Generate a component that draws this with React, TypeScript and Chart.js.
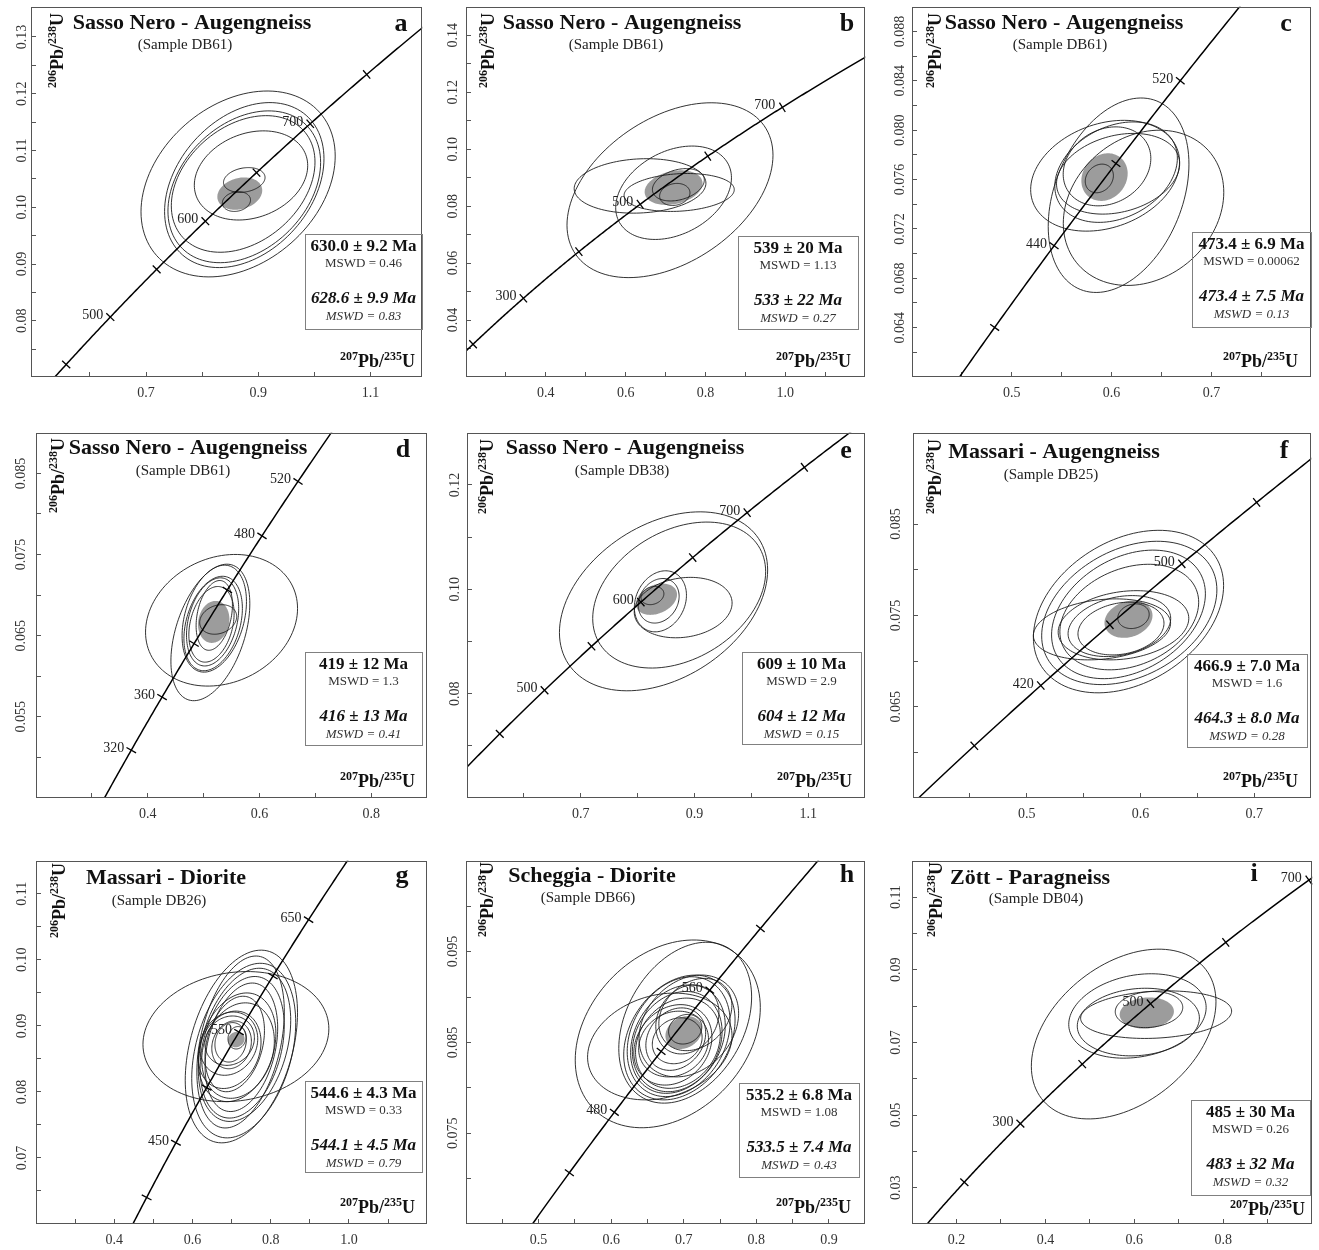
import React, { useEffect, useRef } from "react";
import { Chart, registerables } from "chart.js";

Chart.register(...registerables);

const SERIF = "'Liberation Serif', 'Times New Roman', serif";
const LAMBDA_238 = 1.55125e-10;
const LAMBDA_235 = 9.8485e-10;
const pb206u238 = (ma: number) => Math.exp(LAMBDA_238 * ma * 1e6) - 1;
const pb207u235 = (ma: number) => Math.exp(LAMBDA_235 * ma * 1e6) - 1;

// ================= DATA =================
// ellipse rows: [x centre, y centre, x half-extent, y half-extent, correlation]

// ---- a ----
const titleA = "Sasso Nero - Augengneiss";
const sampleA = "(Sample DB61)";
const resultA = ["630.0 ± 9.2 Ma", "MSWD = 0.46", "628.6 ± 9.9 Ma", "MSWD = 0.83"];
const xRangeA = [0.495, 1.192];
const yRangeA = [0.0701, 0.1353];
const xTicksA = [0.6, 0.7, 0.8, 0.9, 1.0, 1.1];
const xLabelsA = ["0.7", "0.9", "1.1"];
const yTicksA = [0.075, 0.08, 0.085, 0.09, 0.095, 0.1, 0.105, 0.11, 0.115, 0.12, 0.125, 0.13];
const yLabelsA = ["0.08", "0.09", "0.10", "0.11", "0.12", "0.13"];
const agesA = [450, 500, 550, 600, 650, 700, 750];
const ageLabelsA = [500, 600, 700];
const ellipsesA = [
  [0.864, 0.1041, 0.173, 0.01637, 0.3],
  [0.875, 0.1039, 0.142, 0.01453, 0.32],
  [0.875, 0.1036, 0.136, 0.01337, 0.32],
  [0.873, 0.1041, 0.128, 0.01203, 0.32],
  [0.887, 0.1056, 0.101, 0.00785, 0.22],
  [0.875, 0.1048, 0.037, 0.00218, 0.2],
  [0.861, 0.101, 0.0251, 0.00174, 0.15],
];
const meanA = [0.867, 0.1024, 0.04, 0.00285, 0.2];

// ---- b ----
const titleB = "Sasso Nero - Augengneiss";
const sampleB = "(Sample DB61)";
const resultB = ["539 ± 20 Ma", "MSWD = 1.13", "533 ± 22 Ma", "MSWD = 0.27"];
const xRangeB = [0.2, 1.2];
const yRangeB = [0.02, 0.15];
const xTicksB = [0.3, 0.4, 0.5, 0.6, 0.7, 0.8, 0.9, 1.0, 1.1];
const xLabelsB = ["0.4", "0.6", "0.8", "1.0"];
const yTicksB = [0.03, 0.04, 0.05, 0.06, 0.07, 0.08, 0.09, 0.1, 0.11, 0.12, 0.13, 0.14];
const yLabelsB = ["0.04", "0.06", "0.08", "0.10", "0.12", "0.14"];
const agesB = [200, 300, 400, 500, 600, 700];
const ageLabelsB = [300, 500, 700];
const ellipsesB = [
  [0.711, 0.0856, 0.258, 0.0307, 0.4],
  [0.636, 0.0871, 0.165, 0.00956, 0.1],
  [0.72, 0.0847, 0.145, 0.0164, 0.32],
  [0.734, 0.0848, 0.138, 0.00666, 0.15],
  [0.732, 0.0875, 0.065, 0.00568, 0.3],
  [0.723, 0.0841, 0.038, 0.00388, 0.15],
];
const meanB = [0.72, 0.0865, 0.0725, 0.00608, 0.25];

// ---- c ----
const titleC = "Sasso Nero - Augengneiss";
const sampleC = "(Sample DB61)";
const resultC = ["473.4 ± 6.9 Ma", "MSWD = 0.00062", "473.4 ± 7.5 Ma", "MSWD = 0.13"];
const xRangeC = [0.4, 0.8];
const yRangeC = [0.06, 0.09];
const xTicksC = [0.45, 0.5, 0.55, 0.6, 0.65, 0.7, 0.75];
const xLabelsC = ["0.5", "0.6", "0.7"];
const yTicksC = [0.062, 0.064, 0.066, 0.068, 0.07, 0.072, 0.074, 0.076, 0.078, 0.08, 0.082, 0.084, 0.086, 0.088];
const yLabelsC = ["0.064", "0.068", "0.072", "0.076", "0.080", "0.084", "0.088"];
const agesC = [400, 440, 480, 520];
const ageLabelsC = [440, 520];
const ellipsesC = [
  [0.5935, 0.07631, 0.0746, 0.00449, 0.25],
  [0.607, 0.07473, 0.0705, 0.00788, 0.32],
  [0.632, 0.07371, 0.0804, 0.00629, 0.2],
  [0.6045, 0.0766, 0.0614, 0.00407, 0.28],
  [0.6065, 0.07647, 0.0617, 0.00327, 0.25],
  [0.5954, 0.07707, 0.0439, 0.0032, 0.2],
  [0.5877, 0.07609, 0.0141, 0.00116, 0.2],
];
const meanC = [0.5929, 0.0762, 0.0232, 0.00193, 0.15];

// ---- d ----
const titleD = "Sasso Nero - Augengneiss";
const sampleD = "(Sample DB61)";
const resultD = ["419 ± 12 Ma", "MSWD = 1.3", "416 ± 13 Ma", "MSWD = 0.41"];
const xRangeD = [0.2, 0.9];
const yRangeD = [0.045, 0.09];
const xTicksD = [0.3, 0.4, 0.5, 0.6, 0.7, 0.8];
const xLabelsD = ["0.4", "0.6", "0.8"];
const yTicksD = [0.05, 0.055, 0.06, 0.065, 0.07, 0.075, 0.08, 0.085];
const yLabelsD = ["0.055", "0.065", "0.075", "0.085"];
const agesD = [320, 360, 400, 440, 480, 520];
const ageLabelsD = [320, 360, 480, 520];
const ellipsesD = [
  [0.532, 0.0669, 0.136, 0.00811, 0.18],
  [0.512, 0.0654, 0.0706, 0.00841, 0.42],
  [0.519, 0.0671, 0.0576, 0.00659, 0.32],
  [0.517, 0.0665, 0.0523, 0.00582, 0.32],
  [0.516, 0.0667, 0.0467, 0.00543, 0.3],
  [0.514, 0.0664, 0.0405, 0.00466, 0.28],
  [0.519, 0.0675, 0.0325, 0.0043, 0.3],
  [0.526, 0.067, 0.0331, 0.00182, 0.2],
];
const meanD = [0.518, 0.0667, 0.0281, 0.00259, 0.12];

// ---- e ----
const titleE = "Sasso Nero - Augengneiss";
const sampleE = "(Sample DB38)";
const resultE = ["609 ± 10 Ma", "MSWD = 2.9", "604 ± 12 Ma", "MSWD = 0.15"];
const xRangeE = [0.5, 1.2];
const yRangeE = [0.06, 0.13];
const xTicksE = [0.6, 0.7, 0.8, 0.9, 1.0, 1.1];
const xLabelsE = ["0.7", "0.9", "1.1"];
const yTicksE = [0.07, 0.08, 0.09, 0.1, 0.11, 0.12];
const yLabelsE = ["0.08", "0.10", "0.12"];
const agesE = [450, 500, 550, 600, 650, 700, 750];
const ageLabelsE = [500, 600, 700];
const ellipsesE = [
  [0.8455, 0.0977, 0.183, 0.01715, 0.35],
  [0.873, 0.0989, 0.152, 0.01399, 0.32],
  [0.88, 0.0965, 0.086, 0.00579, 0.15],
  [0.84, 0.0977, 0.0458, 0.00585, 0.2],
  [0.837, 0.0978, 0.0359, 0.00427, 0.2],
  [0.826, 0.0988, 0.0201, 0.00174, 0.2],
];
const meanE = [0.833, 0.0981, 0.0362, 0.003, 0.3];

// ---- f ----
const titleF = "Massari - Augengneiss";
const sampleF = "(Sample DB25)";
const resultF = ["466.9 ± 7.0 Ma", "MSWD = 1.6", "464.3 ± 8.0 Ma", "MSWD = 0.28"];
const xRangeF = [0.4, 0.75];
const yRangeF = [0.055, 0.095];
const xTicksF = [0.45, 0.5, 0.55, 0.6, 0.65, 0.7];
const xLabelsF = ["0.5", "0.6", "0.7"];
const yTicksF = [0.06, 0.065, 0.07, 0.075, 0.08, 0.085];
const yLabelsF = ["0.065", "0.075", "0.085"];
const agesF = [380, 420, 460, 500, 540];
const ageLabelsF = [420, 500];
const ellipsesF = [
  [0.5894, 0.07542, 0.0836, 0.0089, 0.32],
  [0.5901, 0.07527, 0.077, 0.00785, 0.32],
  [0.5894, 0.07511, 0.0676, 0.00704, 0.32],
  [0.5901, 0.07482, 0.061, 0.00578, 0.28],
  [0.5661, 0.07347, 0.0603, 0.00334, 0.2],
  [0.585, 0.07392, 0.0574, 0.00379, 0.2],
  [0.5814, 0.07383, 0.0451, 0.00334, 0.25],
  [0.5828, 0.07356, 0.0378, 0.00289, 0.2],
  [0.5938, 0.07491, 0.0138, 0.00135, 0.15],
];
const meanF = [0.5894, 0.07458, 0.0211, 0.00204, 0.2];

// ---- g ----
const titleG = "Massari - Diorite";
const sampleG = "(Sample DB26)";
const resultG = ["544.6 ± 4.3 Ma", "MSWD = 0.33", "544.1 ± 4.5 Ma", "MSWD = 0.79"];
const xRangeG = [0.2, 1.2];
const yRangeG = [0.06, 0.115];
const xTicksG = [0.3, 0.4, 0.5, 0.6, 0.7, 0.8, 0.9, 1.0, 1.1];
const xLabelsG = ["0.4", "0.6", "0.8", "1.0"];
const yTicksG = [0.065, 0.07, 0.075, 0.08, 0.085, 0.09, 0.095, 0.1, 0.105, 0.11];
const yLabelsG = ["0.07", "0.08", "0.09", "0.10", "0.11"];
const agesG = [400, 450, 500, 550, 600, 650];
const ageLabelsG = [450, 550, 650];
const ellipsesG = [
  [0.711, 0.08838, 0.2376, 0.00985, 0.12],
  [0.725, 0.08688, 0.1435, 0.01459, 0.35],
  [0.731, 0.08626, 0.1329, 0.01322, 0.32],
  [0.723, 0.08756, 0.1118, 0.01302, 0.35],
  [0.733, 0.08713, 0.1181, 0.0116, 0.32],
  [0.727, 0.08676, 0.1076, 0.01072, 0.3],
  [0.725, 0.08676, 0.0928, 0.00973, 0.3],
  [0.714, 0.08676, 0.0992, 0.00823, 0.25],
  [0.7165, 0.08626, 0.0928, 0.00723, 0.2],
  [0.695, 0.08638, 0.0802, 0.00586, 0.2],
  [0.693, 0.08731, 0.0738, 0.00479, 0.15],
  [0.695, 0.08776, 0.0633, 0.00374, 0.12],
  [0.7, 0.08713, 0.0506, 0.00362, 0.15],
  [0.6975, 0.08751, 0.0401, 0.00299, 0.12],
  [0.714, 0.0882, 0.0232, 0.0017, 0.1],
  [0.708, 0.08726, 0.076, 0.00723, 0.28],
];
const meanG = [0.712, 0.08793, 0.0211, 0.00117, 0.1];

// ---- h ----
const titleH = "Scheggia - Diorite";
const sampleH = "(Sample DB66)";
const resultH = ["535.2 ± 6.8 Ma", "MSWD = 1.08", "533.5 ± 7.4 Ma", "MSWD = 0.43"];
const xRangeH = [0.4, 0.95];
const yRangeH = [0.065, 0.105];
const xTicksH = [0.45, 0.5, 0.55, 0.6, 0.65, 0.7, 0.75, 0.8, 0.85, 0.9];
const xLabelsH = ["0.5", "0.6", "0.7", "0.8", "0.9"];
const yTicksH = [0.07, 0.075, 0.08, 0.085, 0.09, 0.095, 0.1];
const yLabelsH = ["0.075", "0.085", "0.095"];
const agesH = [440, 480, 520, 560, 600];
const ageLabelsH = [480, 560];
const ellipsesH = [
  [0.678, 0.08594, 0.1275, 0.01034, 0.28],
  [0.702, 0.08717, 0.0915, 0.00886, 0.32],
  [0.667, 0.08455, 0.0995, 0.00588, 0.2],
  [0.694, 0.08554, 0.0767, 0.00687, 0.28],
  [0.693, 0.08563, 0.0709, 0.0066, 0.25],
  [0.692, 0.08536, 0.0652, 0.00597, 0.25],
  [0.691, 0.08509, 0.0618, 0.00552, 0.2],
  [0.692, 0.08491, 0.0584, 0.00497, 0.2],
  [0.685, 0.08473, 0.0538, 0.00443, 0.2],
  [0.686, 0.08482, 0.0481, 0.00362, 0.15],
  [0.689, 0.08536, 0.0412, 0.00344, 0.2],
  [0.691, 0.08518, 0.0343, 0.00253, 0.15],
  [0.716, 0.08807, 0.0503, 0.00398, 0.25],
  [0.705, 0.08753, 0.0435, 0.0038, 0.2],
  [0.702, 0.08645, 0.0229, 0.00163, 0.15],
  [0.707, 0.08681, 0.0686, 0.00561, 0.25],
];
const meanH = [0.7, 0.08608, 0.0252, 0.00181, 0.2];

// ---- i ----
const titleI = "Zött - Paragneiss";
const sampleI = "(Sample DB04)";
const resultI = ["485 ± 30 Ma", "MSWD = 0.26", "483 ± 32 Ma", "MSWD = 0.32"];
const xRangeI = [0.1, 1.0];
const yRangeI = [0.02, 0.12];
const xTicksI = [0.2, 0.3, 0.4, 0.5, 0.6, 0.7, 0.8, 0.9];
const xLabelsI = ["0.2", "0.4", "0.6", "0.8"];
const yTicksI = [0.03, 0.04, 0.05, 0.06, 0.07, 0.08, 0.09, 0.1, 0.11];
const yLabelsI = ["0.03", "0.05", "0.07", "0.09", "0.11"];
const agesI = [200, 300, 400, 500, 600, 700];
const ageLabelsI = [300, 500, 700];
const ellipsesI = [
  [0.576, 0.0723, 0.2076, 0.02337, 0.38],
  [0.607, 0.07728, 0.1545, 0.01162, 0.2],
  [0.609, 0.0756, 0.1373, 0.00931, 0.12],
  [0.649, 0.07764, 0.1698, 0.00655, 0.15],
  [0.633, 0.07904, 0.0759, 0.00497, 0.12],
];
const meanI = [0.628, 0.07809, 0.061, 0.00429, 0.1];

// ================= LAYOUT (page pixels) =================
type Layout = {
  frame: number[];
  box: number[];
  title: number[];
  sample: number[];
  letter: number[];
  yTitle: number[];
  xTitle: number[];
  yLabelGap: number;
};

const panels = [
  { letter: "a", title: titleA, sample: sampleA, result: resultA, xRange: xRangeA, yRange: yRangeA, xTicks: xTicksA, xLabels: xLabelsA, yTicks: yTicksA, yLabels: yLabelsA, ages: agesA, ageLabels: ageLabelsA, ellipses: ellipsesA, mean: meanA,
    layout: { frame: [31, 3, 424, 377], box: [305, 234, 422, 329], title: [192, 29], sample: [185, 45], letter: [401, 31], yTitle: [63, 88], xTitle: [415, 367], yLabelGap: 9 } },
  { letter: "b", title: titleB, sample: sampleB, result: resultB, xRange: xRangeB, yRange: yRangeB, xTicks: xTicksB, xLabels: xLabelsB, yTicks: yTicksB, yLabels: yLabelsB, ages: agesB, ageLabels: ageLabelsB, ellipses: ellipsesB, mean: meanB,
    layout: { frame: [466, 3, 867, 377], box: [738, 236, 858, 329], title: [622, 29], sample: [616, 45], letter: [847, 31], yTitle: [494, 88], xTitle: [851, 367], yLabelGap: 13 } },
  { letter: "c", title: titleC, sample: sampleC, result: resultC, xRange: xRangeC, yRange: yRangeC, xTicks: xTicksC, xLabels: xLabelsC, yTicks: yTicksC, yLabels: yLabelsC, ages: agesC, ageLabels: ageLabelsC, ellipses: ellipsesC, mean: meanC,
    layout: { frame: [912, 3, 1313, 377], box: [1192, 232, 1311, 327], title: [1064, 29], sample: [1060, 45], letter: [1286, 31], yTitle: [941, 88], xTitle: [1298, 367], yLabelGap: 11.5 } },
  { letter: "d", title: titleD, sample: sampleD, result: resultD, xRange: xRangeD, yRange: yRangeD, xTicks: xTicksD, xLabels: xLabelsD, yTicks: yTicksD, yLabels: yLabelsD, ages: agesD, ageLabels: ageLabelsD, ellipses: ellipsesD, mean: meanD,
    layout: { frame: [36, 429, 429, 798], box: [305, 652, 422, 745], title: [188, 454], sample: [183, 471], letter: [403, 457], yTitle: [64, 513], xTitle: [415, 787], yLabelGap: 15 } },
  { letter: "e", title: titleE, sample: sampleE, result: resultE, xRange: xRangeE, yRange: yRangeE, xTicks: xTicksE, xLabels: xLabelsE, yTicks: yTicksE, yLabels: yLabelsE, ages: agesE, ageLabels: ageLabelsE, ellipses: ellipsesE, mean: meanE,
    layout: { frame: [467, 429, 867, 798], box: [742, 652, 861, 744], title: [625, 454], sample: [622, 471], letter: [846, 458], yTitle: [493, 514], xTitle: [852, 787], yLabelGap: 11.7 } },
  { letter: "f", title: titleF, sample: sampleF, result: resultF, xRange: xRangeF, yRange: yRangeF, xTicks: xTicksF, xLabels: xLabelsF, yTicks: yTicksF, yLabels: yLabelsF, ages: agesF, ageLabels: ageLabelsF, ellipses: ellipsesF, mean: meanF,
    layout: { frame: [913, 429, 1313, 798], box: [1187, 654, 1307, 747], title: [1054, 458], sample: [1051, 475], letter: [1284, 458], yTitle: [941, 514], xTitle: [1298, 787], yLabelGap: 16.5 } },
  { letter: "g", title: titleG, sample: sampleG, result: resultG, xRange: xRangeG, yRange: yRangeG, xTicks: xTicksG, xLabels: xLabelsG, yTicks: yTicksG, yLabels: yLabelsG, ages: agesG, ageLabels: ageLabelsG, ellipses: ellipsesG, mean: meanG,
    layout: { frame: [36, 857, 429, 1224], box: [305, 1081, 422, 1172], title: [166, 884], sample: [159, 901], letter: [402, 883], yTitle: [65, 938], xTitle: [415, 1213], yLabelGap: 14 } },
  { letter: "h", title: titleH, sample: sampleH, result: resultH, xRange: xRangeH, yRange: yRangeH, xTicks: xTicksH, xLabels: xLabelsH, yTicks: yTicksH, yLabels: yLabelsH, ages: agesH, ageLabels: ageLabelsH, ellipses: ellipsesH, mean: meanH,
    layout: { frame: [466, 857, 867, 1224], box: [739, 1083, 859, 1177], title: [592, 882], sample: [588, 898], letter: [847, 882], yTitle: [493, 937], xTitle: [851, 1213], yLabelGap: 12.4 } },
  { letter: "i", title: titleI, sample: sampleI, result: resultI, xRange: xRangeI, yRange: yRangeI, xTicks: xTicksI, xLabels: xLabelsI, yTicks: yTicksI, yLabels: yLabelsI, ages: agesI, ageLabels: ageLabelsI, ellipses: ellipsesI, mean: meanI,
    layout: { frame: [912, 857, 1314, 1224], box: [1191, 1100, 1310, 1195], title: [1030, 884], sample: [1036, 899], letter: [1254, 881], yTitle: [942, 937], xTitle: [1305, 1215], yLabelGap: 15.5 } },
];

// ================= DRAWING =================
const TICK_LEN = 5;
const X_AXIS_H = 32;
const RIGHT_PAD = 5;

function ellipsePath(ctx: CanvasRenderingContext2D, xs: any, ys: any, e: number[]) {
  const [cx, cy, sx, sy, r] = e;
  const k = Math.sqrt(1 - r * r);
  ctx.beginPath();
  const n = 120;
  for (let i = 0; i <= n; i++) {
    const t = (i / n) * Math.PI * 2;
    const px = xs.getPixelForValue(cx + sx * Math.cos(t));
    const py = ys.getPixelForValue(cy + sy * (r * Math.cos(t) + k * Math.sin(t)));
    if (i === 0) ctx.moveTo(px, py);
    else ctx.lineTo(px, py);
  }
  ctx.closePath();
}

function drawRatio(ctx: CanvasRenderingContext2D, parts: [string, boolean][], x: number, y: number, rotate: boolean, alignRight: boolean) {
  const mainF = `bold 18px ${SERIF}`;
  const supF = `bold 12px ${SERIF}`;
  ctx.save();
  ctx.translate(x, y);
  if (rotate) ctx.rotate(-Math.PI / 2);
  ctx.textAlign = "left";
  ctx.textBaseline = "alphabetic";
  ctx.fillStyle = "#111";
  const widths = parts.map(([t, sup]) => {
    ctx.font = sup ? supF : mainF;
    return ctx.measureText(t).width;
  });
  const total = widths.reduce((a, b) => a + b, 0);
  let cx = alignRight ? -total : 0;
  parts.forEach(([t, sup], i) => {
    ctx.font = sup ? supF : mainF;
    ctx.fillText(t, cx, sup ? -7 : 0);
    cx += widths[i];
  });
  ctx.restore();
}

function makePlugin(p: any, ox: number, oy: number) {
  const L: Layout = p.layout;
  return {
    id: "concordia_" + p.letter,
    beforeDatasetsDraw(chart: any) {
      const { ctx, chartArea: ca } = chart;
      const xs = chart.scales.x;
      const ys = chart.scales.y;
      ctx.save();
      ctx.beginPath();
      ctx.rect(ca.left, ca.top, ca.right - ca.left, ca.bottom - ca.top);
      ctx.clip();
      ellipsePath(ctx, xs, ys, p.mean);
      ctx.fillStyle = "#9c9c9c";
      ctx.fill();
      ctx.strokeStyle = "#1c1c1c";
      ctx.lineWidth = 0.9;
      for (const e of p.ellipses) {
        ellipsePath(ctx, xs, ys, e);
        ctx.stroke();
      }
      ctx.beginPath();
      for (let a = 0; a <= 1500; a += 2) {
        const px = xs.getPixelForValue(pb207u235(a));
        const py = ys.getPixelForValue(pb206u238(a));
        if (a === 0) ctx.moveTo(px, py);
        else ctx.lineTo(px, py);
      }
      ctx.strokeStyle = "#000";
      ctx.lineWidth = 1.5;
      ctx.stroke();
      ctx.restore();
    },
    afterDatasetsDraw(chart: any) {
      const { ctx, chartArea: ca } = chart;
      const xs = chart.scales.x;
      const ys = chart.scales.y;
      ctx.save();
      ctx.strokeStyle = "#555";
      ctx.lineWidth = 1;
      ctx.strokeRect(Math.round(ca.left) + 0.5, Math.round(ca.top) + 0.5, Math.round(ca.right - ca.left) - 1, Math.round(ca.bottom - ca.top) - 1);
      ctx.fillStyle = "#222";
      ctx.font = `14px ${SERIF}`;
      ctx.textAlign = "right";
      ctx.textBaseline = "alphabetic";
      for (const a of p.ageLabels) {
        const px = xs.getPixelForValue(pb207u235(a));
        const py = ys.getPixelForValue(pb206u238(a));
        ctx.fillText(String(a), px - 7, py + 2);
      }
      ctx.fillStyle = "#111";
      ctx.textAlign = "center";
      ctx.font = `bold 22px ${SERIF}`;
      ctx.fillText(p.title, L.title[0] - ox, L.title[1] - oy);
      ctx.font = `15px ${SERIF}`;
      ctx.fillStyle = "#222";
      ctx.textBaseline = "middle";
      ctx.fillText(p.sample, L.sample[0] - ox, L.sample[1] - oy);
      ctx.textBaseline = "alphabetic";
      ctx.fillStyle = "#111";
      ctx.font = `bold 26px ${SERIF}`;
      ctx.fillText(p.letter, L.letter[0] - ox, L.letter[1] - oy);
      const [bx0, by0, bx1, by1] = L.box;
      ctx.strokeStyle = "#808080";
      ctx.lineWidth = 1;
      ctx.strokeRect(bx0 - ox + 0.5, by0 - oy + 0.5, bx1 - bx0, by1 - by0);
      const bcx = (bx0 + bx1) / 2 - ox;
      const fonts = [`bold 17px ${SERIF}`, `13px ${SERIF}`, `italic bold 17px ${SERIF}`, `italic 13px ${SERIF}`];
      const offs = [12.5, 30, 65, 82.5];
      const cols = ["#111", "#333", "#111", "#333"];
      ctx.textAlign = "center";
      ctx.textBaseline = "middle";
      p.result.forEach((t: string, i: number) => {
        ctx.font = fonts[i];
        ctx.fillStyle = cols[i];
        ctx.fillText(t, bcx, by0 - oy + offs[i]);
      });
      ctx.restore();
      drawRatio(ctx, [["206", true], ["Pb/", false], ["238", true], ["U", false]], L.yTitle[0] - ox, L.yTitle[1] - oy, true, false);
      drawRatio(ctx, [["207", true], ["Pb/", false], ["235", true], ["U", false]], L.xTitle[0] - ox, L.xTitle[1] - oy, false, true);
    },
  };
}

let measureCtx: CanvasRenderingContext2D | null = null;
function textWidth(s: string, font: string) {
  if (!measureCtx) measureCtx = document.createElement("canvas").getContext("2d");
  measureCtx!.font = font;
  return measureCtx!.measureText(s).width;
}

function labelFor(labels: string[]) {
  return (value: any) => {
    const i = labels.findIndex((l) => Math.abs(parseFloat(l) - Number(value)) < 1e-9);
    return i >= 0 ? labels[i] : "";
  };
}

function PanelChart({ p }: { p: any }) {
  const ref = useRef<HTMLCanvasElement | null>(null);
  const L: Layout = p.layout;
  const [fl, ft, fr, fb] = L.frame;
  const yW = Math.min(40, fl);
  const padTop = Math.min(3, ft);
  const left = fl - yW;
  const top = ft - padTop;
  const w = fr - fl + yW + RIGHT_PAD;
  const h = fb - ft + padTop + X_AXIS_H;

  useEffect(() => {
    const tickFont = { family: SERIF, size: 14 };
    const widest = Math.max(...p.yLabels.map((s: string) => textWidth(s, `14px ${SERIF}`)));
    const yPad = L.yLabelGap + TICK_LEN - widest / 2;
    const zeroPad = (s: any) => {
      s.paddingLeft = 0;
      s.paddingRight = 0;
      s.paddingTop = 0;
      s.paddingBottom = 0;
    };
    const ages: number[] = p.ages;
    const chart = new Chart(ref.current as HTMLCanvasElement, {
      type: "scatter",
      data: {
        datasets: [
          {
            data: ages.map((a) => ({ x: pb207u235(a), y: pb206u238(a) })),
            pointStyle: "line",
            pointRadius: 5.5,
            pointHoverRadius: 5.5,
            pointBorderColor: "#000",
            pointBackgroundColor: "#000",
            pointBorderWidth: 1.3,
            pointRotation: (c: any) => {
              const xs = c.chart.scales.x;
              const ys = c.chart.scales.y;
              if (!xs || !ys || c.dataIndex === undefined) return 0;
              const a = ages[c.dataIndex];
              const x1 = xs.getPixelForValue(pb207u235(a - 5));
              const y1 = ys.getPixelForValue(pb206u238(a - 5));
              const x2 = xs.getPixelForValue(pb207u235(a + 5));
              const y2 = ys.getPixelForValue(pb206u238(a + 5));
              return (Math.atan2(y2 - y1, x2 - x1) * 180) / Math.PI + 90;
            },
            clip: 8,
          } as any,
        ],
      },
      options: {
        animation: false,
        responsive: false,
        devicePixelRatio: 1,
        events: [],
        layout: { padding: { left: 0, top: padTop, right: RIGHT_PAD, bottom: 0 } },
        plugins: { legend: { display: false }, tooltip: { enabled: false } },
        scales: {
          x: {
            type: "linear",
            position: "bottom",
            min: p.xRange[0],
            max: p.xRange[1],
            afterBuildTicks: (s: any) => {
              s.ticks = p.xTicks.map((v: number) => ({ value: v }));
            },
            afterFit: (s: any) => {
              s.height = X_AXIS_H;
              zeroPad(s);
            },
            grid: { display: true, drawOnChartArea: false, drawTicks: true, tickLength: -TICK_LEN, color: "#555", lineWidth: 1 },
            border: { display: false },
            ticks: { autoSkip: false, minRotation: 0, maxRotation: 0, padding: 12.6, color: "#333", font: tickFont, callback: labelFor(p.xLabels) },
          },
          y: {
            type: "linear",
            position: "left",
            min: p.yRange[0],
            max: p.yRange[1],
            afterBuildTicks: (s: any) => {
              s.ticks = p.yTicks.map((v: number) => ({ value: v }));
            },
            afterFit: (s: any) => {
              s.width = yW;
              zeroPad(s);
            },
            grid: { display: true, drawOnChartArea: false, drawTicks: true, tickLength: -TICK_LEN, color: "#555", lineWidth: 1 },
            border: { display: false },
            ticks: { autoSkip: false, minRotation: 90, maxRotation: 90, crossAlign: "center", padding: yPad, color: "#333", font: tickFont, callback: labelFor(p.yLabels) },
          },
        },
      } as any,
      plugins: [makePlugin(p, left, top)],
    });
    return () => chart.destroy();
  }, []);

  return (
    <canvas
      ref={ref}
      width={w}
      height={h}
      style={{ position: "absolute", left, top, width: w, height: h }}
    />
  );
}

export default function App() {
  return (
    <div style={{ position: "absolute", left: 0, top: 0, width: 1319, height: 1250, background: "#fff", overflow: "hidden" }}>
      {panels.map((p) => (
        <PanelChart key={p.letter} p={p} />
      ))}
    </div>
  );
}
